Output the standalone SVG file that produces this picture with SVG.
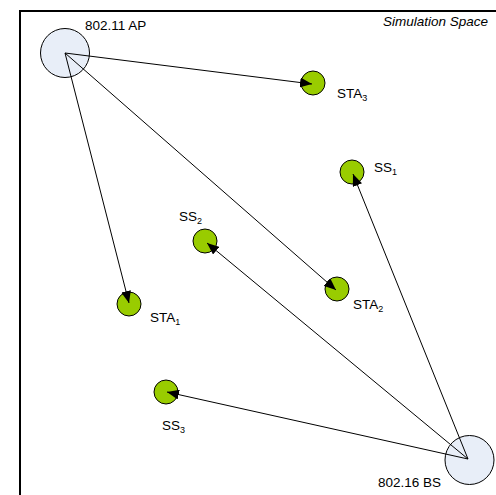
<svg xmlns="http://www.w3.org/2000/svg" width="496" height="495" viewBox="0 0 496 495">
<style>
text{font-family:"Liberation Sans",Arial,sans-serif;font-size:13.5px;fill:#000}
.sub{font-size:9px}
.big{fill:#e8eef8;stroke:#000;stroke-width:1}
.sta{fill:#99cc00;stroke:#000;stroke-width:1}
.c{stroke:#000;stroke-width:1;fill:none;marker-end:url(#ah)}
</style>
<defs>
<marker id="ah" viewBox="0 0 12 10" refX="12" refY="5" markerWidth="12" markerHeight="10" markerUnits="userSpaceOnUse" orient="auto">
<path d="M0,0 L12,5 L0,10 z" fill="#000"/>
</marker>
</defs>
<rect width="496" height="495" fill="#fff"/>
<path d="M20,496 V11 H497" fill="none" stroke="#000" stroke-width="2"/>
<text x="383" y="26" font-style="italic">Simulation Space</text>
<g id="AP"><circle class="big" cx="65" cy="53" r="24.5"/><text x="85" y="30">802.11 AP</text></g>
<g id="BS"><circle class="big" cx="469.5" cy="460" r="24.5"/><text x="378" y="487">802.16 BS</text></g>
<g id="STA3"><circle class="sta" cx="313" cy="83" r="12"/><text x="337" y="98">STA<tspan class="sub" dy="3">3</tspan></text></g>
<g id="SS1"><circle class="sta" cx="352" cy="172" r="12"/><text x="374" y="172">SS<tspan class="sub" dy="3">1</tspan></text></g>
<g id="SS2"><circle class="sta" cx="205" cy="241" r="12"/><text x="179" y="221">SS<tspan class="sub" dy="3">2</tspan></text></g>
<g id="STA1"><circle class="sta" cx="129" cy="304" r="12"/><text x="150" y="322">STA<tspan class="sub" dy="3">1</tspan></text></g>
<g id="STA2"><circle class="sta" cx="337" cy="289" r="12"/><text x="353" y="309">STA<tspan class="sub" dy="3">2</tspan></text></g>
<g id="SS3"><circle class="sta" cx="166" cy="392" r="12"/><text x="162" y="430">SS<tspan class="sub" dy="3">3</tspan></text></g>
<g id="connectors">
<line class="c" x1="65" y1="53" x2="312" y2="84"/>
<line class="c" x1="65" y1="53" x2="129" y2="303"/>
<line class="c" x1="65" y1="53" x2="336" y2="290"/>
<line class="c" x1="468" y1="459" x2="353" y2="174"/>
<line class="c" x1="468" y1="459" x2="207" y2="243"/>
<line class="c" x1="468" y1="459" x2="167" y2="392"/>
</g>
</svg>
